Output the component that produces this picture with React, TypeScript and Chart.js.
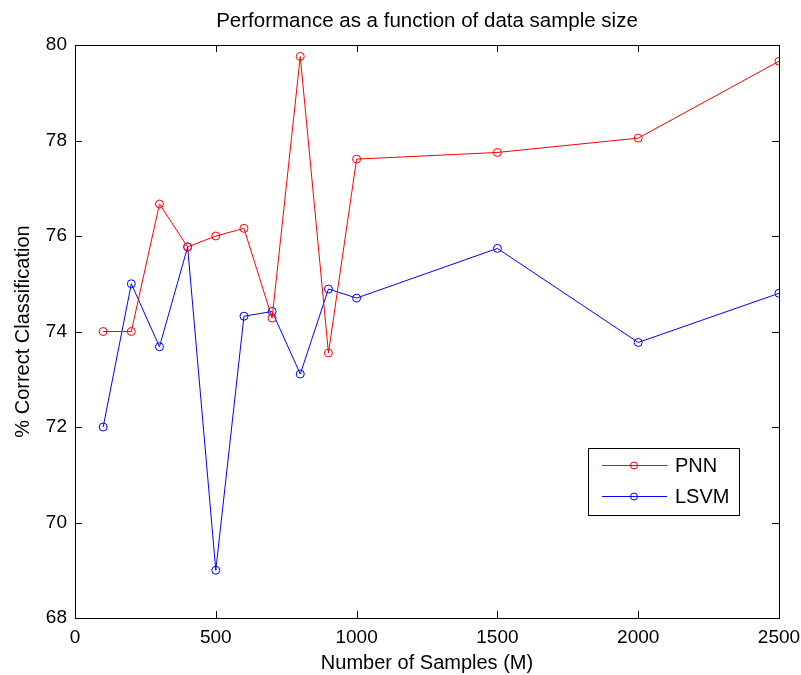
import React, { useEffect, useRef } from "react";
import { Chart, registerables } from "chart.js";

Chart.register(...registerables);

const sampleSizes = [100, 200, 300, 400, 500, 600, 700, 800, 900, 1000, 1500, 2000, 2500];
const pnnAccuracy = [74.0, 74.0, 76.67, 75.77, 76.0, 76.16, 74.28, 79.76, 73.55, 77.61, 77.75, 78.05, 79.66];
const lsvmAccuracy = [72.0, 75.0, 73.68, 75.77, 69.0, 74.32, 74.42, 73.11, 74.89, 74.7, 75.74, 73.77, 74.8];
const xTicks = [0, 500, 1000, 1500, 2000, 2500];
const yTicks = [68, 70, 72, 74, 76, 78, 80];

const FONT = "Arial, 'Liberation Sans', sans-serif";

// MATLAB-style frame: full box, inward ticks on all four sides, title, axis labels, legend
const framePlugin = {
  id: "frame",
  afterDraw(chart: any) {
    const { ctx, chartArea } = chart;
    const { left, right, top, bottom } = chartArea;
    const xs = chart.scales.x;
    const ys = chart.scales.y;
    ctx.save();
    ctx.strokeStyle = "#000";
    ctx.lineWidth = 1;
    ctx.strokeRect(Math.round(left) + 0.5, Math.round(top) + 0.5, Math.round(right - left), Math.round(bottom - top));
    const tl = 7;
    ctx.beginPath();
    for (const v of xTicks) {
      const px = Math.round(xs.getPixelForValue(v)) + 0.5;
      ctx.moveTo(px, bottom);
      ctx.lineTo(px, bottom - tl);
      ctx.moveTo(px, top);
      ctx.lineTo(px, top + tl);
    }
    for (const v of yTicks) {
      const py = Math.round(ys.getPixelForValue(v)) + 0.5;
      ctx.moveTo(left, py);
      ctx.lineTo(left + tl, py);
      ctx.moveTo(right, py);
      ctx.lineTo(right - tl, py);
    }
    ctx.stroke();

    // title
    ctx.fillStyle = "#000";
    ctx.font = `20.5px ${FONT}`;
    ctx.textAlign = "center";
    ctx.textBaseline = "middle";
    ctx.fillText("Performance as a function of data sample size", (left + right) / 2, 21);
    // x label
    ctx.font = `20px ${FONT}`;
    ctx.fillText("Number of Samples (M)", (left + right) / 2, 663);
    // y label
    ctx.save();
    ctx.translate(23, (top + bottom) / 2);
    ctx.rotate(-Math.PI / 2);
    ctx.fillText("% Correct Classification", 0, 0);
    ctx.restore();

    // legend
    const lx = 588, ly = 448, lw = 151, lh = 67;
    ctx.fillStyle = "#fff";
    ctx.fillRect(lx, ly, lw, lh);
    ctx.strokeStyle = "#000";
    ctx.strokeRect(lx + 0.5, ly + 0.5, lw, lh);
    chart.data.datasets.forEach((ds: any, i: number) => {
      const yy = ly + 17 + i * 31;
      ctx.strokeStyle = ds.borderColor;
      ctx.lineWidth = 1;
      ctx.beginPath();
      ctx.moveTo(602, yy + 0.5);
      ctx.lineTo(667, yy + 0.5);
      ctx.stroke();
      ctx.beginPath();
      ctx.arc(634, yy + 0.5, 3.5, 0, Math.PI * 2);
      ctx.stroke();
      ctx.fillStyle = "#000";
      ctx.textAlign = "left";
      ctx.font = `20px ${FONT}`;
      ctx.fillText(ds.label, 675, yy + 1);
    });
    ctx.restore();
  },
};

export default function App() {
  const ref = useRef<HTMLCanvasElement>(null);

  useEffect(() => {
    if (!ref.current) return;
    const chart = new Chart(ref.current, {
      type: "line",
      data: {
        datasets: [
          {
            label: "PNN",
            data: sampleSizes.map((x, i) => ({ x, y: pnnAccuracy[i] })),
            borderColor: "#ff0000",
            backgroundColor: "rgba(0,0,0,0)",
            borderWidth: 1,
            pointRadius: 4,
            pointBorderWidth: 1,
            pointBorderColor: "#ff0000",
            pointBackgroundColor: "rgba(0,0,0,0)",
            tension: 0,
          },
          {
            label: "LSVM",
            data: sampleSizes.map((x, i) => ({ x, y: lsvmAccuracy[i] })),
            borderColor: "#0000ff",
            backgroundColor: "rgba(0,0,0,0)",
            borderWidth: 1,
            pointRadius: 4,
            pointBorderWidth: 1,
            pointBorderColor: "#0000ff",
            pointBackgroundColor: "rgba(0,0,0,0)",
            tension: 0,
          },
        ],
      },
      options: {
        animation: false,
        responsive: false,
        devicePixelRatio: 1,
        layout: { padding: { top: 45, right: 22, left: 0, bottom: 0 } },
        plugins: {
          legend: { display: false },
          title: { display: false },
          tooltip: { enabled: false },
        },
        scales: {
          x: {
            type: "linear",
            min: 0,
            max: 2500,
            afterBuildTicks: (axis: any) => {
              axis.ticks = xTicks.map((v) => ({ value: v }));
            },
            afterFit: (axis: any) => {
              axis.height = 57;
              axis.paddingLeft = 0;
              axis.paddingRight = 0;
            },
            grid: { display: false, drawTicks: false },
            border: { display: false },
            ticks: {
              color: "#000",
              padding: 8,
              maxRotation: 0,
              callback: (v: any) => String(v),
              font: { family: FONT, size: 19 },
            },
          },
          y: {
            type: "linear",
            min: 68,
            max: 80,
            afterBuildTicks: (axis: any) => {
              axis.ticks = yTicks.map((v) => ({ value: v }));
            },
            afterFit: (axis: any) => {
              axis.width = 75;
              axis.paddingTop = 0;
              axis.paddingBottom = 0;
            },
            grid: { display: false, drawTicks: false },
            border: { display: false },
            ticks: {
              color: "#000",
              padding: 8,
              callback: (v: any) => String(v),
              font: { family: FONT, size: 19 },
            },
          },
        },
      },
      plugins: [framePlugin],
    });
    return () => chart.destroy();
  }, []);

  return (
    <div style={{ position: "fixed", left: 0, top: 0, width: 801, height: 675, background: "#fff" }}>
      <canvas ref={ref} width={801} height={675} style={{ width: 801, height: 675 }} />
    </div>
  );
}
